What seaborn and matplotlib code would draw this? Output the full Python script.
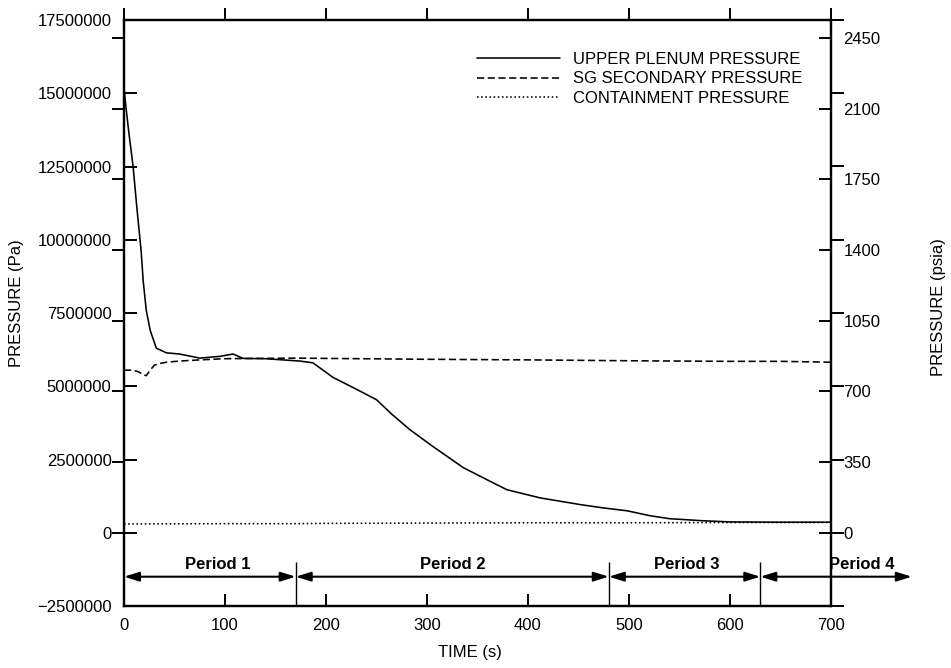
import matplotlib
matplotlib.use("Agg")
import matplotlib.pyplot as plt
from matplotlib.ticker import FixedLocator
import seaborn as sns

# ---------------- data (time in s, pressure in Pa) ----------------
upper_t = [0, 2, 5, 9, 13, 17, 19, 22, 26, 32, 42, 55, 75, 95, 108, 118, 140,
           174, 187, 207, 230, 250, 265, 283, 306, 336, 360, 379, 412, 452,
           474, 498, 521, 540, 573, 600, 650, 700]
upper_mpa = [15.2, 14.5, 13.6, 12.5, 11.0, 9.6, 8.6, 7.6, 6.9, 6.3, 6.14, 6.1,
             5.96, 6.02, 6.1, 5.95, 5.94, 5.86, 5.8, 5.3, 4.9, 4.54, 4.05, 3.52,
             2.94, 2.22, 1.8, 1.47, 1.19, 0.96, 0.85, 0.75, 0.58, 0.48, 0.41,
             0.37, 0.36, 0.36]

sg_t = [0, 8, 14, 19, 22, 26, 30, 36, 42, 55, 75, 100, 130, 170, 200, 300,
        400, 500, 600, 650, 700]
sg_mpa = [5.55, 5.55, 5.5, 5.4, 5.36, 5.55, 5.72, 5.78, 5.82, 5.86, 5.9, 5.94,
          5.95, 5.96, 5.95, 5.92, 5.9, 5.87, 5.85, 5.85, 5.82]

cont_t = [0, 100, 170, 200, 300, 400, 500, 600, 700]
cont_mpa = [0.30, 0.31, 0.31, 0.32, 0.33, 0.34, 0.34, 0.35, 0.35]

series_labels = ["UPPER PLENUM PRESSURE", "SG SECONDARY PRESSURE",
                 "CONTAINMENT PRESSURE"]

x_ticks = [0, 100, 200, 300, 400, 500, 600, 700]
pa_ticks = [-2500000, 0, 2500000, 5000000, 7500000, 10000000, 12500000,
            15000000, 17500000]
psia_ticks = [0, 350, 700, 1050, 1400, 1750, 2100, 2450]
PA_PER_PSI = 6894.757

period_bounds = [0, 170, 480, 630, 780]
period_labels = ["Period 1", "Period 2", "Period 3", "Period 4"]
period_label_t = [93, 325, 557, 730]

# ---------------- style ----------------
sns.set_style("ticks")
plt.rcParams['font.family'] = ['Liberation Sans', 'DejaVu Sans']
plt.rcParams['axes.linewidth'] = 1.6
for k in ('text.color', 'axes.labelcolor', 'xtick.color', 'ytick.color',
          'axes.edgecolor'):
    plt.rcParams[k] = 'black'

W, H = 951, 668
fig = plt.figure(figsize=(W / 100, H / 100), dpi=100)
ax = fig.add_axes([124 / W, 1 - 606 / H, 707 / W, 586 / H])

styles = ['-', (0, (4.5, 2.2)), (0, (1, 1.6))]
for t, p, lab, ls in zip([upper_t, sg_t, cont_t],
                         [upper_mpa, sg_mpa, cont_mpa],
                         series_labels, styles):
    sns.lineplot(x=t, y=[v * 1e6 for v in p], ax=ax, color='black',
                 linewidth=1.15, linestyle=ls, label=lab, sort=False,
                 estimator=None)

ax.set_xlim(0, 700)
ax.set_ylim(-2500000, 17500000)
ax.set_xticks(x_ticks)
ax.set_xticklabels([str(v) for v in x_ticks])
ax.set_yticks(pa_ticks)
ax.set_yticklabels([str(v).replace('-', '\u2212') for v in pa_ticks])

ax.yaxis.remove_overlapping_locs = False
ax.xaxis.remove_overlapping_locs = False
ax.yaxis.set_minor_locator(FixedLocator([v * PA_PER_PSI for v in psia_ticks]))
ax.xaxis.set_minor_locator(FixedLocator(x_ticks))

ax.tick_params(axis='y', which='major', direction='in', length=9, width=1.4,
               left=True, right=False, pad=9, labelsize=12, colors='black')
ax.tick_params(axis='y', which='minor', direction='out', length=9, width=1.4,
               left=True, right=False, colors='black')
ax.tick_params(axis='x', which='major', direction='in', length=9, width=1.4,
               bottom=True, top=False, pad=9, labelsize=12, colors='black')
ax.tick_params(axis='x', which='minor', direction='out', length=9, width=1.4,
               bottom=False, top=True, colors='black')

ax2 = ax.twinx()
ax2.set_ylim(-2500000 / PA_PER_PSI, 17500000 / PA_PER_PSI)
ax2.set_yticks(psia_ticks)
ax2.set_yticklabels([str(v) for v in psia_ticks])
ax2.yaxis.remove_overlapping_locs = False
ax2.yaxis.set_minor_locator(FixedLocator([v / PA_PER_PSI for v in pa_ticks]))
ax2.tick_params(axis='y', which='major', direction='in', length=9, width=1.4,
                left=False, right=True, pad=9, labelsize=12, colors='black')
ax2.tick_params(axis='y', which='minor', direction='out', length=9, width=1.4,
                left=False, right=True, colors='black')
for a in (ax, ax2):
    for s in a.spines.values():
        s.set_linewidth(1.6)
        s.set_color('black')

ax.set_xlabel("TIME (s)", fontsize=12, color='black')
ax.xaxis.set_label_coords(0.489, -0.066)
ax.set_ylabel("PRESSURE (Pa)", fontsize=12, color='black')
ax.yaxis.set_label_coords(-0.141, 0.517)
ax2.set_ylabel("PRESSURE (psia)", fontsize=12, color='black')
ax2.yaxis.set_label_coords(1.142, 0.51)

leg = ax.legend(loc='upper left', bbox_to_anchor=(0.499, 0.945),
                frameon=False, handlelength=5.0, handletextpad=0.8,
                labelspacing=0.25, borderpad=0, borderaxespad=0, fontsize=12)
for txt in leg.get_texts():
    txt.set_color('black')

# period arrows
y_arrow = -1500000
for i in range(4):
    ax.annotate('', xy=(period_bounds[i], y_arrow),
                xytext=(period_bounds[i + 1], y_arrow),
                arrowprops=dict(arrowstyle='<|-|>,head_length=0.9,head_width=0.28',
                                color='black', lw=1.5, shrinkA=0, shrinkB=0),
                annotation_clip=False)
    ax.text(period_label_t[i], -1100000, period_labels[i], ha='center',
            va='center', fontsize=12, fontweight='bold', color='black',
            clip_on=False)
ax.vlines(period_bounds[1:4], -2500000, -1000000, color='black', lw=1.0)

fig.savefig("out.png", dpi=100)
